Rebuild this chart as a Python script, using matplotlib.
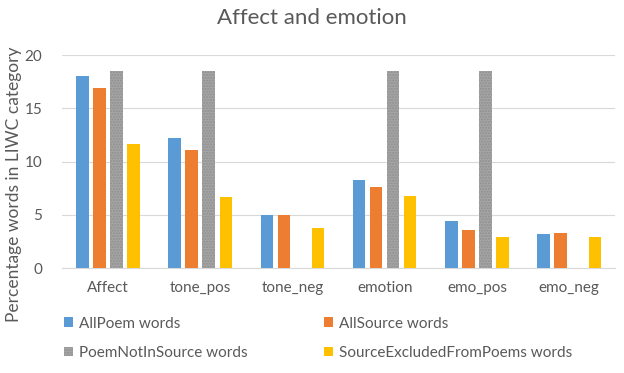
import numpy as np
import matplotlib.pyplot as plt

plt.rcParams['font.family'] = ['Lato', 'DejaVu Sans']

categories = ['Affect', 'tone_pos', 'tone_neg', 'emotion', 'emo_pos', 'emo_neg']
series_names = ['AllPoem words', 'AllSource words',
                'PoemNotInSource words', 'SourceExcludedFromPoems words']
all_poem = [18.0, 12.2, 4.95, 8.25, 4.45, 3.15]
all_source = [16.9, 11.05, 4.95, 7.6, 3.55, 3.25]
poem_not_in_source = [18.5, 18.5, 0.0, 18.5, 18.5, 0.0]
source_excluded = [11.6, 6.7, 3.8, 6.75, 2.9, 2.9]

colors = ['#5B9BD5', '#ED7D31', '#A5A5A5', '#FFC000']
text_color = '#595959'

fig = plt.figure(figsize=(6.24, 3.73), dpi=100)
ax = fig.add_axes([0.099, 0.2815, 0.887, 0.571])

x = np.arange(len(categories))
slot = 0.185
width = 0.135
data = [all_poem, all_source, poem_not_in_source, source_excluded]
for i, (vals, name, c) in enumerate(zip(data, series_names, colors)):
    offs = (i - 1.5) * slot
    if i == 2:
        ax.bar(x + offs, vals, width, color=c, label=name, hatch='......',
               edgecolor='#8f8f8f', linewidth=0, zorder=3)
    else:
        ax.bar(x + offs, vals, width, color=c, label=name, zorder=3)

ax.set_xlim(-0.5, len(categories) - 0.5)
ax.set_ylim(0, 20)
ax.set_yticks([0, 5, 10, 15, 20])
ax.set_xticks(x)
ax.set_xticklabels(categories)
ax.yaxis.grid(True, color='#D9D9D9', linewidth=0.8, zorder=0)
for s in ['top', 'right', 'left']:
    ax.spines[s].set_visible(False)
ax.spines['bottom'].set_color('#D9D9D9')
ax.tick_params(axis='both', length=0, colors=text_color, labelsize=11)
ax.tick_params(axis='x', pad=9)
ax.tick_params(axis='y', pad=14)

fig.text(0.022, 0.505, 'Percentage words in LIWC category', rotation=90,
         ha='center', va='center', color=text_color, fontsize=12.5)
fig.text(0.5, 0.952, 'Affect and emotion', ha='center', va='center',
         fontsize=16, color=text_color)

handles, labels = ax.get_legend_handles_labels()
order = [0, 2, 1, 3]
fig.legend([handles[k] for k in order], [labels[k] for k in order], ncol=2,
           loc='center left', bbox_to_anchor=(0.08, 0.093), frameon=False,
           fontsize=11, labelcolor=text_color, handlelength=0.6,
           handleheight=0.6, handletextpad=0.4, columnspacing=5.0,
           labelspacing=1.0)

plt.savefig('out.png', dpi=100)
